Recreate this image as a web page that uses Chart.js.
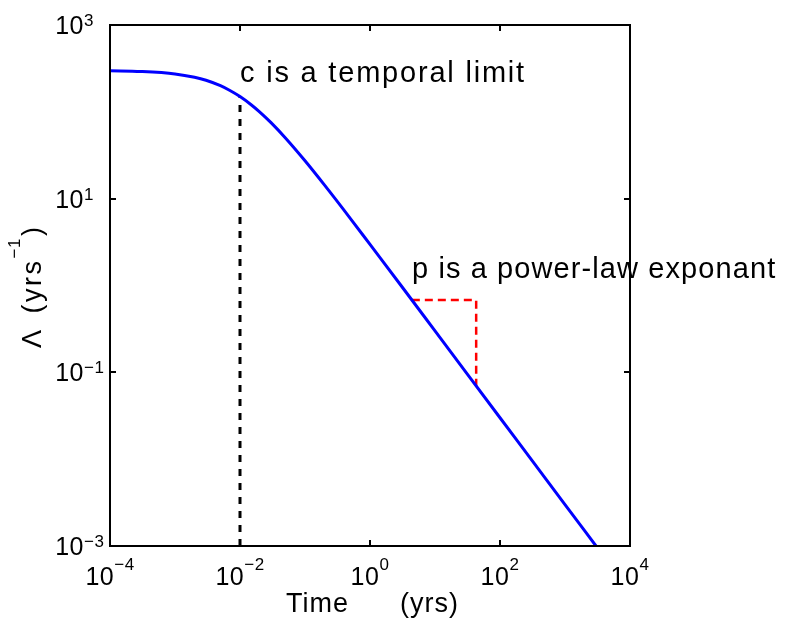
<!DOCTYPE html>
<html lang="en">
<head>
<meta charset="UTF-8">
<title>Omori law rate</title>
<style>
    body { margin: 0; background: #ffffff; }
    #wrap { width: 787px; height: 620px; }
</style>
</head>
<body>
<div id="wrap"><canvas id="omoriChart" width="787" height="620"></canvas></div>

<script src="https://cdn.jsdelivr.net/npm/chart.js"></script>
<script>
// values (log-log)
const timeYrs = [1e-4, 3e-4, 1e-3, 2e-3, 3e-3, 5e-3, 7e-3, 1e-2, 1.5e-2, 2e-2, 3e-2, 5e-2,
                 0.1, 0.2, 0.5, 1, 3, 10, 30, 100, 300, 1000, 3000];
const rate = [297, 291, 273, 250, 231, 200, 176, 150, 120, 100, 75, 50,
              27.3, 14.3, 5.9, 2.97, 1.0, 0.30, 0.10, 0.030, 0.010, 0.0030, 0.0010];

// dashed marker at c and the slope step for p
const cLineT = [0.01, 0.01];
const cLineY = [0.001, 150];
const pStepT = [4.4, 43, 43];
const pStepY = [0.68, 0.68, 0.07];

// decade exponents that carry a tick label
const xTickExp = [-4, -2, 0, 2, 4];
const yTickExp = [3, 1, -1, -3];

const FONT = '"Liberation Sans", Arial, Helvetica, sans-serif';

function toPoints(xs, ys) {
    return xs.map((x, i) => ({ x: x, y: ys[i] }));
}

function supText(e) {
    return e < 0 ? '\u2212' + Math.abs(e) : String(e);
}

// box, inward ticks, power-of-ten labels and the text notes
const framePlugin = {
    id: 'frame',
    afterDraw(chart) {
        const ctx = chart.ctx;
        const a = chart.chartArea;
        const xs = chart.scales.x;
        const ys = chart.scales.y;
        const tl = 6;

        ctx.save();
        ctx.strokeStyle = '#000';
        ctx.lineWidth = 2;
        ctx.strokeRect(a.left, a.top, a.right - a.left, a.bottom - a.top);

        ctx.beginPath();
        xTickExp.forEach(e => {
            const px = Math.round(xs.getPixelForValue(Math.pow(10, e)));
            ctx.moveTo(px, a.bottom); ctx.lineTo(px, a.bottom - tl);
            ctx.moveTo(px, a.top); ctx.lineTo(px, a.top + tl);
        });
        yTickExp.forEach(e => {
            const py = Math.round(ys.getPixelForValue(Math.pow(10, e)));
            ctx.moveTo(a.left, py); ctx.lineTo(a.left + tl, py);
            ctx.moveTo(a.right, py); ctx.lineTo(a.right - tl, py);
        });
        ctx.stroke();

        ctx.fillStyle = '#000';
        ctx.textBaseline = 'alphabetic';
        const baseFont = '25px ' + FONT;
        const supFont = '17px ' + FONT;
        ctx.letterSpacing = '0.5px';

        xTickExp.forEach(e => {
            const px = xs.getPixelForValue(Math.pow(10, e));
            ctx.font = baseFont;
            const w1 = ctx.measureText('10').width;
            ctx.font = supFont;
            const w2 = ctx.measureText(supText(e)).width;
            const x0 = px - (w1 + w2) / 2;
            ctx.textAlign = 'left';
            ctx.font = baseFont;
            ctx.fillText('10', x0, a.bottom + 39);
            ctx.font = supFont;
            ctx.fillText(supText(e), x0 + w1, a.bottom + 24);
        });

        yTickExp.forEach(e => {
            const py = ys.getPixelForValue(Math.pow(10, e));
            const xr = a.left - 26;
            ctx.textAlign = 'right';
            ctx.font = baseFont;
            ctx.fillText('10', xr, py + 9);
            ctx.textAlign = 'left';
            ctx.font = supFont;
            ctx.fillText(supText(e), xr, py + 1);
        });

        // x title
        ctx.font = '27px ' + FONT;
        ctx.letterSpacing = '1px';
        ctx.textAlign = 'left';
        ctx.fillText('Time', 286, 612);
        ctx.fillText('(yrs)', 400, 612);

        // y title, rotated
        ctx.save();
        ctx.translate(41, 348);
        ctx.rotate(-Math.PI / 2);
        ctx.textAlign = 'left';
        ctx.letterSpacing = '2.5px';
        ctx.font = '27px ' + FONT;
        let cx = 0;
        ctx.fillText('\u039B', cx, 0);
        cx += ctx.measureText('\u039B').width + 14;
        ctx.fillText('(yrs', cx, 0);
        cx += ctx.measureText('(yrs').width;
        ctx.font = supFont;
        ctx.letterSpacing = '0.5px';
        ctx.fillText('\u22121', cx, -21);
        cx += ctx.measureText('\u22121').width + 2;
        ctx.font = '27px ' + FONT;
        ctx.fillText(')', cx, 0);
        ctx.restore();

        // notes
        ctx.font = '29px ' + FONT;
        ctx.letterSpacing = '1.8px';
        ctx.fillText('c is a temporal limit', 240, 82);
        ctx.letterSpacing = '1.1px';
        ctx.fillText('p is a power-law exponant', 412, 278);
        ctx.restore();
    }
};

new Chart(document.getElementById('omoriChart'), {
    type: 'line',
    data: {
        datasets: [
            {
                data: toPoints(timeYrs, rate),
                borderColor: '#0000ff',
                borderWidth: 3,
                pointRadius: 0,
                cubicInterpolationMode: 'monotone'
            },
            {
                data: toPoints(cLineT, cLineY),
                borderColor: '#000000',
                borderWidth: 3,
                borderDash: [7, 7],
                pointRadius: 0
            },
            {
                data: toPoints(pStepT, pStepY),
                borderColor: '#ff0000',
                borderWidth: 2.5,
                borderDash: [8, 5],
                pointRadius: 0
            }
        ]
    },
    options: {
        responsive: false,
        animation: false,
        events: [],
        layout: { padding: { left: 110, right: 157, top: 25, bottom: 74 } },
        plugins: {
            legend: { display: false },
            tooltip: { enabled: false }
        },
        scales: {
            x: { type: 'logarithmic', min: 1e-4, max: 1e4, display: false },
            y: { type: 'logarithmic', min: 1e-3, max: 1e3, display: false }
        }
    },
    plugins: [framePlugin]
});
</script>
</body>
</html>
